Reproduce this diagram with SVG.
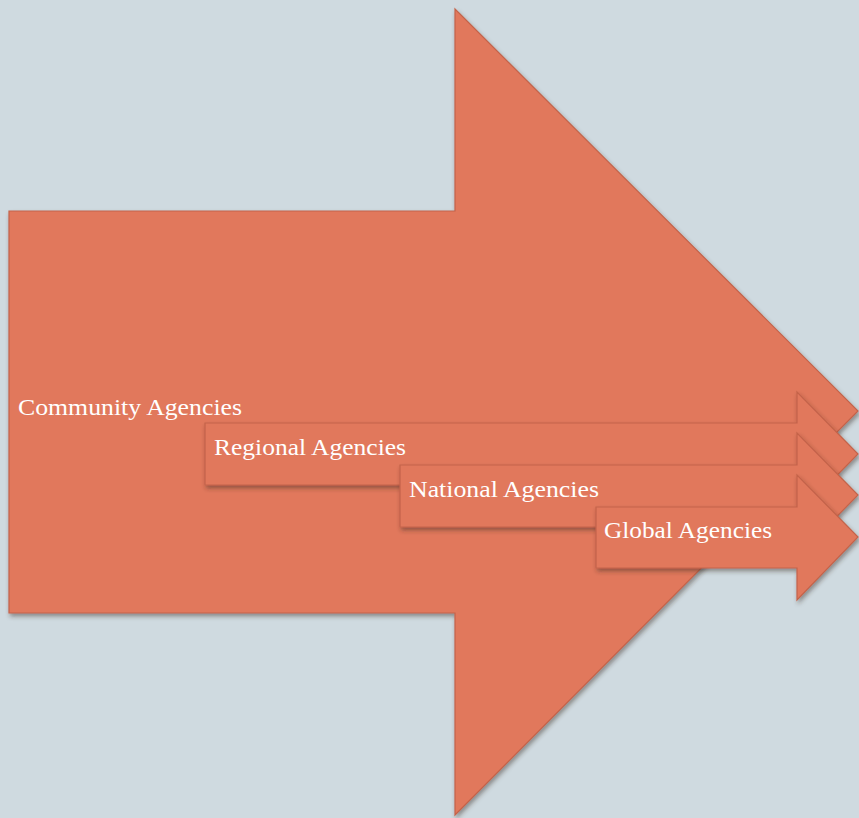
<svg xmlns="http://www.w3.org/2000/svg" width="859" height="818" viewBox="0 0 859 818">
<defs>
<filter id="sh" x="-10%" y="-10%" width="130%" height="140%">
<feDropShadow dx="1.5" dy="3" stdDeviation="2" flood-color="#3a2a25" flood-opacity="0.45"/>
</filter>
<style>
.arr{fill:#e1785c;stroke:#c4634a;stroke-width:1.2;filter:url(#sh)}
.lbl{font-family:"Liberation Serif","Times New Roman",serif;font-size:24px;fill:#ffffff}
</style>
</defs>
<rect width="859" height="818" fill="#cfdae0"/>
<g id="community">
<path class="arr" d="M9,211 H455 V9 L858,411 L455,815 V613 H9 Z"/>
<text class="lbl" x="18" y="415" textLength="224" lengthAdjust="spacingAndGlyphs">Community Agencies</text>
</g>
<g id="regional">
<path class="arr" d="M205,423 H797 V392 L858,454 L797,516 V485 H205 Z"/>
<text class="lbl" x="214" y="455" textLength="192" lengthAdjust="spacingAndGlyphs">Regional Agencies</text>
</g>
<g id="national">
<path class="arr" d="M400,465 H797 V433 L858,495 L797,557 V527 H400 Z"/>
<text class="lbl" x="409" y="497" textLength="190" lengthAdjust="spacingAndGlyphs">National Agencies</text>
</g>
<g id="global">
<path class="arr" d="M596,507 H797 V475 L858,537 L797,600 V568 H596 Z"/>
<text class="lbl" x="604" y="538" textLength="168" lengthAdjust="spacingAndGlyphs">Global Agencies</text>
</g>
<g id="connectors"/>
</svg>
